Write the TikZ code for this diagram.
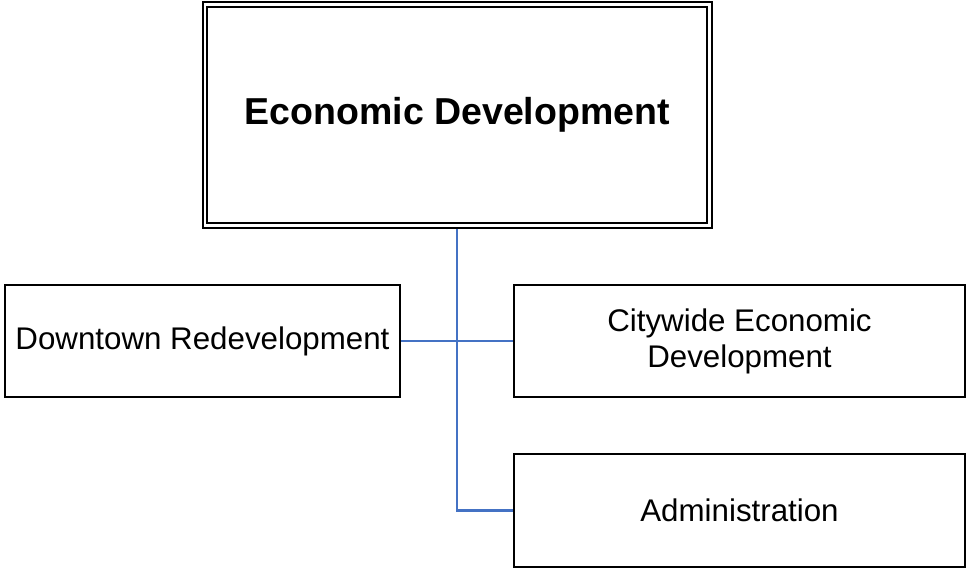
\documentclass[tikz,border=0pt]{standalone}
\usepackage{fontspec}
\setmainfont{Liberation Sans}
\definecolor{linkblue}{RGB}{68,114,196}

\begin{document}
\begin{tikzpicture}[x=1pt, y=-1pt,
    head/.style={draw=black, double, line width=1.9pt, double distance=2.8pt,
      outer sep=3.3pt, inner sep=0pt,
      minimum width=504.5pt, minimum height=221pt,
      font=\fontsize{37.5}{45}\selectfont\bfseries},
    unit/.style={draw=black, line width=2.3pt, outer sep=1.1pt, inner sep=0pt,
      minimum height=112.5pt, align=center,
      font=\fontsize{31.3}{36}\selectfont},
    link/.style={draw=linkblue, line width=2.2pt}]

    \useasboundingbox (0,0) rectangle (967,569);

    \node[head] (econ) at (457.25,115) {Economic Development};

    \node[unit, minimum width=395pt] (down) at (202.5,341) {Downtown Redevelopment};
    \node[unit, minimum width=451pt] (city) at (739.5,341) {Citywide Economic\\Development};
    \node[unit, minimum width=451pt] (admin) at (739.5,510.5) {Administration};

      \draw[link] (econ.south) |- (admin.west);
      \draw[link] (down.east) -- (city.west);
  \end{tikzpicture}
\end{document}
